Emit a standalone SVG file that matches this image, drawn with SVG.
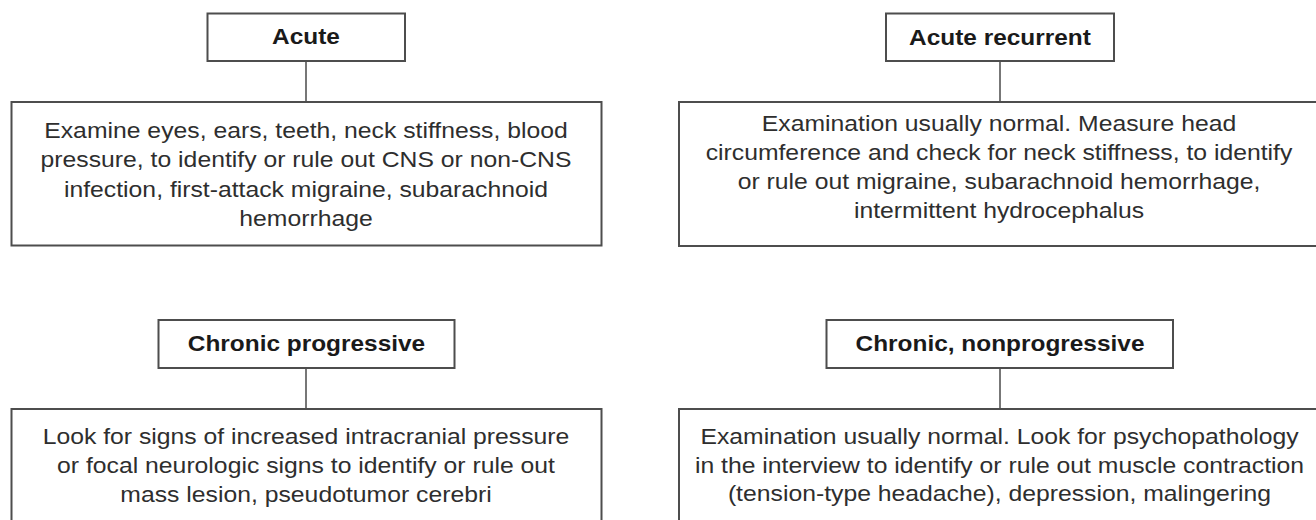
<svg xmlns="http://www.w3.org/2000/svg" width="1316" height="520" viewBox="0 0 1316 520">
<style>
.box{fill:#fff;stroke:#4d4d4d;stroke-width:2}
.conn{stroke:#555;stroke-width:1.6;fill:none}
.title{font-family:"Liberation Sans",Arial,sans-serif;font-size:22px;font-weight:bold;fill:#1a1a1a;text-anchor:middle}
.body{font-family:"Liberation Sans",Arial,sans-serif;font-size:22px;fill:#2e2e2e;text-anchor:middle}
</style>
<rect width="1316" height="520" fill="#fff"/>
<g id="connectors">
<line class="conn" x1="306" y1="61" x2="306" y2="102"/>
<line class="conn" x1="1000" y1="61" x2="1000" y2="102"/>
<line class="conn" x1="306" y1="368" x2="306" y2="409"/>
<line class="conn" x1="1000" y1="368" x2="1000" y2="409"/>
</g>
<g id="acute">
<rect class="box" x="207.5" y="13.5" width="197.5" height="47.5"/>
<text class="title" transform="matrix(1.11 0 0 1 306 0)"><tspan x="0" y="44">Acute</tspan></text>
</g>
<g id="acute-exam">
<rect class="box" x="11.5" y="102" width="590" height="143.5"/>
<text class="body" transform="matrix(1.125 0 0 1 306 0)"><tspan x="0" y="138">Examine eyes, ears, teeth, neck stiffness, blood</tspan><tspan x="0" y="167.5">pressure, to identify or rule out CNS or non-CNS</tspan><tspan x="0" y="197">infection, first-attack migraine, subarachnoid</tspan><tspan x="0" y="226.5">hemorrhage</tspan></text>
</g>
<g id="acute-recurrent">
<rect class="box" x="886" y="13.5" width="228" height="47.5"/>
<text class="title" transform="matrix(1.11 0 0 1 1000 0)"><tspan x="0" y="45">Acute recurrent</tspan></text>
</g>
<g id="acute-recurrent-exam">
<rect class="box" x="679" y="102" width="660" height="144"/>
<text class="body" transform="matrix(1.125 0 0 1 999 0)"><tspan x="0" y="131">Examination usually normal. Measure head</tspan><tspan x="0" y="160">circumference and check for neck stiffness, to identify</tspan><tspan x="0" y="189">or rule out migraine, subarachnoid hemorrhage,</tspan><tspan x="0" y="218.5">intermittent hydrocephalus</tspan></text>
</g>
<g id="chronic-progressive">
<rect class="box" x="158.5" y="320" width="296" height="48"/>
<text class="title" transform="matrix(1.11 0 0 1 306.5 0)"><tspan x="0" y="351">Chronic progressive</tspan></text>
</g>
<g id="chronic-progressive-exam">
<rect class="box" x="11.5" y="409" width="590" height="120"/>
<text class="body" transform="matrix(1.125 0 0 1 306 0)"><tspan x="0" y="444">Look for signs of increased intracranial pressure</tspan><tspan x="0" y="473">or focal neurologic signs to identify or rule out</tspan><tspan x="0" y="502">mass lesion, pseudotumor cerebri</tspan></text>
</g>
<g id="chronic-nonprogressive">
<rect class="box" x="826.5" y="320" width="346.5" height="48"/>
<text class="title" transform="matrix(1.11 0 0 1 1000 0)"><tspan x="0" y="351">Chronic, nonprogressive</tspan></text>
</g>
<g id="chronic-nonprogressive-exam">
<rect class="box" x="679" y="409" width="660" height="120"/>
<text class="body" transform="matrix(1.125 0 0 1 999.5 0)"><tspan x="0" y="444">Examination usually normal. Look for psychopathology</tspan><tspan x="0" y="473">in the interview to identify or rule out muscle contraction</tspan><tspan x="0" y="501.5">(tension-type headache), depression, malingering</tspan></text>
</g>
</svg>
